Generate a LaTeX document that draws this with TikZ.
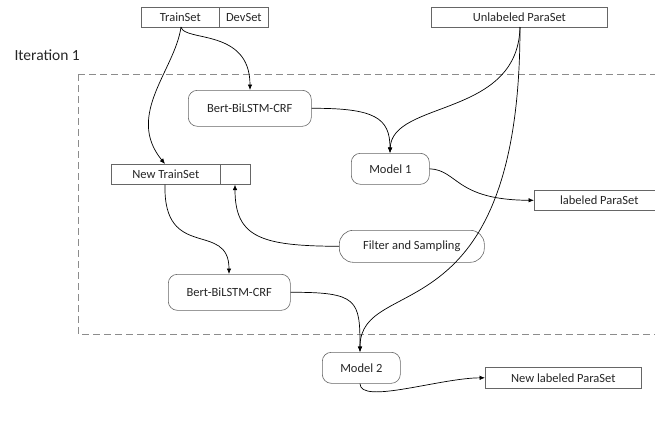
\documentclass[tikz,border=0pt]{standalone}
\usepackage{fontspec}
\setmainfont{Carlito}
\usetikzlibrary{arrows.meta}
\begin{document}
\begin{tikzpicture}[x=1pt,y=-1pt,
  font=\fontsize{12.5}{14}\selectfont,
  every node/.style={text=black!85},
  databox/.style={draw=black!60, line width=0.6pt, fill=white, rectangle, inner sep=0pt, anchor=north west},
  roundbox/.style={draw=black!60, line width=0.6pt, fill=white, rounded corners=9pt, inner sep=0pt, anchor=north west},
  flow/.style={draw=black, line width=0.7pt, -{Latex[length=5.5pt,width=4.5pt]}}
]
\useasboundingbox (0,0) rectangle (655,421);
\clip (0,0) rectangle (655,421);

% iteration frame
\draw[black!45, line width=0.8pt, dash pattern=on 7pt off 4pt] (78,74) -- (662,74) (78,74) -- (78,334) -- (662,334);
\node[anchor=west, font=\fontsize{15.5}{18}\selectfont] (iter) at (11,55) {Iteration 1};

% data sets
\node[databox, minimum width=78pt, minimum height=20pt] (train) at (141,7) {TrainSet};
\node[databox, minimum width=49pt, minimum height=20pt] (dev) at (219,7) {DevSet};
\node[databox, minimum width=176pt, minimum height=20pt] (unlab) at (431,7) {Unlabeled ParaSet};
\node[databox, minimum width=109pt, minimum height=20pt] (newtrain) at (111,164) {New TrainSet};
\node[databox, minimum width=30pt, minimum height=20pt] (newdev) at (220,164) {};
\node[databox, minimum width=130pt, minimum height=20pt] (lab) at (534,190) {labeled ParaSet};
\node[databox, minimum width=156pt, minimum height=21pt] (newlab) at (485,367) {New labeled ParaSet};

% processing steps
\node[roundbox, minimum width=123pt, minimum height=36pt] (bert1) at (188,90) {Bert-BiLSTM-CRF};
\node[roundbox, minimum width=78pt, minimum height=31pt] (m1) at (351,153) {Model 1};
\node[roundbox, minimum width=145pt, minimum height=32pt, rounded corners=14pt] (filt) at (339,230) {Filter and Sampling};
\node[roundbox, minimum width=122pt, minimum height=36pt] (bert2) at (168,274) {Bert-BiLSTM-CRF};
\node[roundbox, minimum width=78pt, minimum height=31pt] (m2) at (322,352) {Model 2};

% connectors
\coordinate (tb) at (181,27);
\coordinate (ub) at (520,27);
\draw[flow] (tb) .. controls (184,42) and (250,28) .. (bert1.north -| 250,0);
\draw[flow] (tb) .. controls (175,70) and (125,115) .. (newtrain.north -| 165,0);
\draw[flow] (ub) .. controls (518,118) and (392,100) .. (m1.north -| 390,0);
\draw[flow] (ub) .. controls (520,340) and (360,272) .. (m2.north -| 360,0);
\draw[flow] (bert1.east) .. controls (375,108) and (390,118) .. (m1.north -| 390,0);
\draw[flow] (m1.east) .. controls (458,170) and (455,200) .. (lab.west);
\draw[flow] (filt.west) .. controls (262,246) and (235,238) .. (newdev.south -| 235,0);
\draw[flow] (newtrain.south -| 165,0) .. controls (163,262) and (229,220) .. (bert2.north -| 229,0);
\draw[flow] (bert2.east) .. controls (358,292) and (360,300) .. (m2.north -| 360,0);
\draw[flow] (m2.south -| 360,0) .. controls (360,405) and (440,378) .. (newlab.west);
\end{tikzpicture}
\end{document}
